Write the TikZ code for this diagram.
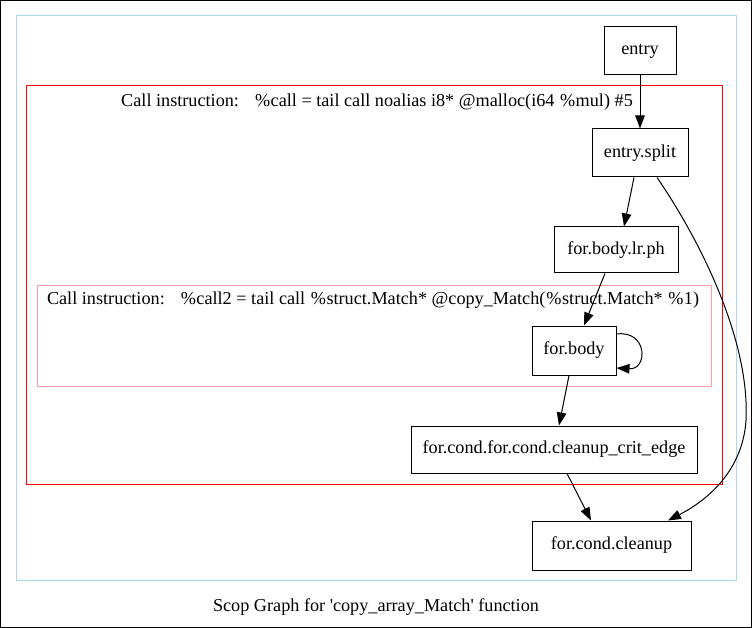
\documentclass[tikz,border=0pt]{standalone}
\usepackage{fontspec}
\setmainfont{Liberation Serif}[Ligatures=TeXOff]
\usetikzlibrary{arrows.meta}
\definecolor{clusterblue}{RGB}{173,216,230}
\definecolor{clusterpink}{RGB}{255,160,160}
\newcommand{\pct}{\kern1pt\%\kern0.5pt}
\begin{document}
\begin{tikzpicture}[x=1pt,y=-1pt,
  font=\fontsize{18.2}{20}\selectfont,
  bb/.style={draw,line width=1pt,inner sep=0pt},
  edge/.style={line width=1pt,-{Triangle[length=13pt,width=9.5pt]}},
  cluster/.style={line width=1pt}]
% page frame
\draw[line width=1pt] (0.5,0.5) rectangle (751.5,627.5);
\useasboundingbox (0,0) rectangle (752,628);
% clusters
\draw[cluster,clusterblue] (16,16) rectangle (736,580);
\draw[cluster,red] (26,86) rectangle (722,484);
\draw[cluster,clusterpink] (37,286) rectangle (711,386);
\node (lbl1) at (377,102) {Call instruction:\hspace{15pt}\pct call = tail call noalias i8* @malloc(i64 \pct mul) \#5};
\node (lbl2) at (373,300) {Call instruction:\hspace{15pt}\pct call2 = tail call \pct struct.Match* @copy\_Match(\pct struct.Match* \pct 1)};
% basic blocks
\node[bb,minimum width=72pt,minimum height=48pt] (entry) at (640,51) {entry};
\node[bb,minimum width=96pt,minimum height=48pt] (split) at (640,153) {entry.split};
\node[bb,minimum width=124pt,minimum height=46pt] (lrph) at (616,250) {for.body.lr.ph};
\node[bb,minimum width=84pt,minimum height=49pt] (body) at (574,350.5) {for.body};
\node[bb,minimum width=286pt,minimum height=47pt] (crit) at (554,449.5) {for.cond.for.cond.cleanup\_crit\_edge};
\node[bb,minimum width=159pt,minimum height=49pt] (cleanup) at (611.5,545.5) {for.cond.cleanup};
% control-flow edges
\draw[edge] (entry) -- (split);
\draw[edge] (split.south -| 634,0) -- (lrph.north -| 624,0);
\draw[edge] (lrph.south -| 605,0) -- (body.north -| 584,0);
\draw[edge] (body.east |- 0,334) .. controls (648,330) and (648,370) .. (body.east |- 0,368);
\draw[edge] (body.south -| 569,0) -- (crit.north -| 559,0);
\draw[edge] (crit.south -| 567,0) -- (cleanup.north -| 591,0);
\draw[edge] (split.south -| 657,0) .. controls (700,240) and (750,340) .. (746,420)
  .. controls (743,470) and (708,500) .. (cleanup.north -| 668,0);
% caption
\node (caption) at (376,607) {Scop Graph for 'copy\_array\_Match' function};
\end{tikzpicture}
\end{document}
